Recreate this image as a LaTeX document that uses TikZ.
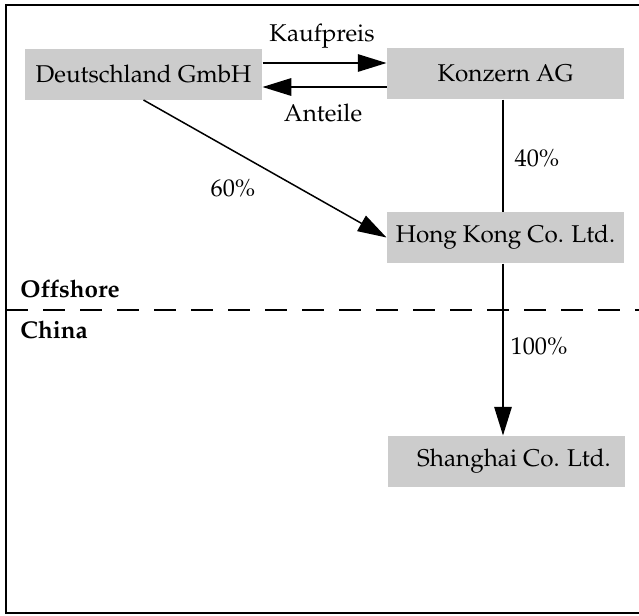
\documentclass[tikz,border=0pt]{standalone}
\usepackage[T1]{fontenc}
\usepackage{mathpazo}
\usetikzlibrary{arrows.meta}
\definecolor{boxgray}{HTML}{CCCCCC}

\begin{document}
\begin{tikzpicture}[x=0.4pt,y=-0.4pt,
  textsize/.style={font=\fontsize{9.7}{11.6}\selectfont},
  entity/.style={textsize, fill=boxgray, minimum width=94.8pt, minimum height=20.4pt, inner sep=0pt},
  link/.style={line width=0.6pt},
  flow/.style={link, -{Triangle[length=11.5pt,width=7pt]}},
  lbl/.style={textsize, inner sep=0pt},
  region/.style={inner sep=0pt, anchor=west, font=\fontsize{9.7}{11.6}\selectfont\bfseries}]
\useasboundingbox (0,0) rectangle (639,615);

% frame, open to the right
\draw[line width=0.8pt] (639,5) -- (6,5) -- (6,613) -- (639,613);

% companies
\node[entity] (deutschland) at (143.5,74) {Deutschland GmbH};
\node[entity] (konzern) at (505.5,73.5) {Konzern AG};
\node[entity] (hongkong) at (505.5,237.5) {Hong Kong Co. Ltd.};
\node[entity] (shanghai) at (506.5,461.5) {\hspace{6pt}Shanghai Co. Ltd.};

% offshore / China border
\coordinate (divL) at (6,310);
\coordinate (divR) at (639,310);
\draw[link, line width=0.8pt, dash pattern=on 8.8pt off 6pt] (divL) -- (divR);

% purchase price and shares
\draw[flow] ([yshift=4.4pt]deutschland.east) -- ([yshift=4.2pt]konzern.west);
\draw[flow] ([yshift=-5.4pt]konzern.west) -- ([yshift=-5.2pt]deutschland.east);
\node[lbl] (kauf) at (322,36) {Kaufpreis};
\node[lbl] (anteile) at (323,113) {Anteile};

% shareholdings
\draw[flow] (deutschland.south) -- (hongkong.west);
\draw[link] ([xshift=-1pt]konzern.south) -- ([xshift=-1pt]hongkong.north);
\draw[flow] ([xshift=-1pt]hongkong.south) -- ([xshift=-1.4pt]shanghai.north);
\node[lbl] (p60) at (233,188) {60\%};
\node[lbl] (p40) at (537,158) {40\%};
\node[lbl] (p100) at (539,346) {100\%};

% region labels
\node[region] (offshore) at (20,289) {Offshore};
\node[region] (china) at (20,330) {China};
\end{tikzpicture}
\end{document}
